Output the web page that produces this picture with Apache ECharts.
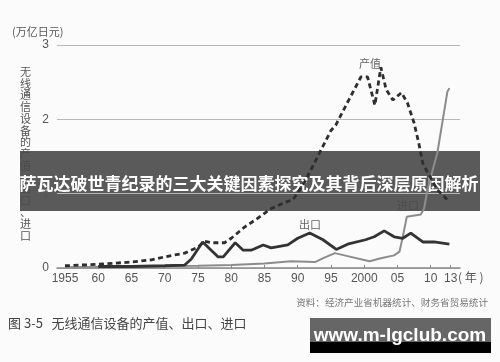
<!DOCTYPE html>
<html><head><meta charset="utf-8">
<script src="https://cdn.jsdelivr.net/npm/echarts@6/dist/echarts.min.js"></script>
<style>html,body{margin:0;padding:0;background:#fbfbfb}#c{width:500px;height:362px}</style>
</head><body><div id="c"></div>
<script>
// Tick labels
const xTicks = [1955,1960,1965,1970,1975,1980,1985,1990,1995,2000,2005,2010,2013];
const yTicks = [0,1,2,3];
// 产值 (production)
const prodYears = [1955,1960,1965,1968,1970,1973,1975,1976,1977,1979,1980,1982,1984,1986,1988,1989.3,1991,1993,1995,1995.7,1997.5,1999.5,2000.5,2001.6,2002.5,2003.3,2004.3,2005.6,2006.5,2007.5,2008.2,2008.8,2009.5,2011,2012.8];
const prodValues = [0.03,0.05,0.08,0.11,0.15,0.2,0.28,0.36,0.34,0.34,0.4,0.55,0.67,0.8,0.88,0.92,1.15,1.5,1.85,1.92,2.23,2.57,2.57,2.19,2.7,2.4,2.26,2.36,2.22,1.95,1.68,1.41,1.29,1.05,0.89];
// 出口 (export)
const expYears = [1960,1965,1970,1973,1974,1975.7,1978,1978.8,1980.6,1981.8,1983,1984.8,1986,1988.5,1990,1991.8,1993.8,1995.8,1997.5,2000.2,2001.5,2003,2004.5,2005.8,2007,2008.8,2010.5,2012.8];
const expValues = [0.02,0.02,0.03,0.04,0.12,0.35,0.15,0.15,0.34,0.24,0.24,0.31,0.27,0.31,0.4,0.47,0.38,0.25,0.32,0.38,0.42,0.5,0.42,0.4,0.47,0.35,0.35,0.32];
// 进口 (import)
const impYears = [1955,1965,1975,1980,1985,1989,1992.6,1994,1995.6,1997.5,2000.8,2002.5,2004.5,2005.3,2005.8,2006.4,2008.5,2009,2009.5,2010.3,2011,2012.5,2012.8];
const impValues = [0.01,0.02,0.03,0.04,0.06,0.09,0.08,0.14,0.2,0.16,0.09,0.13,0.17,0.22,0.42,0.69,0.72,0.8,1.05,1.32,1.55,2.37,2.42];

const zip = (a,b) => a.map((v,i)=>[v,b[i]]);
const chart = echarts.init(document.getElementById('c'), null, {renderer:'canvas'});
const txt = '#555';
chart.setOption({
  backgroundColor:'#fbfbfb',
  animation:false,
  grid:{left:57,top:45,width:403,height:223},
  xAxis:{type:'value',min:1953.8,max:2014.4,
    axisLine:{show:true,lineStyle:{color:'#8a8a8a',width:1.5}},
    axisTick:{show:true,inside:true,length:3,customValues:xTicks,lineStyle:{color:'#8a8a8a'}},
    splitLine:{show:false},
    axisLabel:{customValues:xTicks,color:txt,fontSize:12,fontFamily:'Liberation Sans',margin:5,
      formatter:v=>(v===1955||v===2000)?String(v):String(v).slice(2)}},
  yAxis:{type:'value',min:0,max:3,interval:1,
    axisLine:{show:false},axisTick:{show:false},
    axisLabel:{color:txt,fontSize:12,fontFamily:'Liberation Sans',margin:8},
    splitLine:{show:true,lineStyle:{color:'#b8b8b8',width:1}}},
  series:[
    {type:'line',name:'进口',data:zip(impYears,impValues),symbol:'none',
     lineStyle:{color:'#8c8c8c',width:2}},
    {type:'line',name:'出口',data:zip(expYears,expValues),symbol:'none',
     lineStyle:{color:'#333',width:2.8}},
    {type:'line',name:'产值',data:zip(prodYears,prodValues),symbol:'none',
     lineStyle:{color:'#2e2e2e',width:2.8,type:[5,3.5]}}
  ],
  graphic:[
    {type:'text',left:12,top:26,style:{text:'(万亿日元)',fill:txt,font:'11px "Noto Sans CJK SC"'}},
    {type:'text',x:20,y:66,style:{text:'无\n线\n通\n信\n设\n备\n的\n产\n值\n、\n出\n口\n、\n进\n口',fill:txt,font:'11px "Noto Sans CJK SC"',lineHeight:11.7}},
    {type:'text',x:359,y:58,style:{text:'产值',fill:'#666',font:'11px "Noto Sans CJK SC"'}},
    {type:'text',x:299,y:219,style:{text:'出口',fill:'#666',font:'11px "Noto Sans CJK SC"'}},
    {type:'text',x:397,y:200,style:{text:'进口',fill:'#666',font:'11px "Noto Sans CJK SC"'}},
    {type:'text',x:458,y:271,style:{text:'( 年 )',fill:txt,font:'12px "Noto Sans CJK SC"'}},
    {type:'text',x:488,y:298,style:{text:'资料：经济产业省机器统计、财务省贸易统计',fill:'#777',font:'9.6px "Noto Sans CJK SC"',align:'right'}},
    {type:'text',x:8,y:317,style:{text:'图 3-5   无线通信设备的产值、出口、进口',fill:'#444',font:'13px "Noto Sans CJK SC"'}},
    {type:'rect',shape:{x:20,y:151,width:460,height:60},style:{fill:'rgba(72,72,72,0.9)'}},
    {type:'text',x:249,y:184,style:{text:'萨瓦达破世青纪录的三大关键因素探究及其背后深层原因解析',fill:'#fff',font:'bold 17px "Noto Sans CJK SC"',align:'center',verticalAlign:'middle'}},
    {type:'rect',shape:{x:310,y:318,width:181,height:25},style:{fill:'#666'}},
    {type:'rect',shape:{x:310,y:342,width:181,height:11},style:{fill:'#000'}},
    {type:'text',x:400,y:336,style:{text:'www.m-lgclub.com',fill:'#fff',font:'bold 19px "Liberation Sans"',align:'center',verticalAlign:'middle'}}
  ]
});
</script></body></html>
